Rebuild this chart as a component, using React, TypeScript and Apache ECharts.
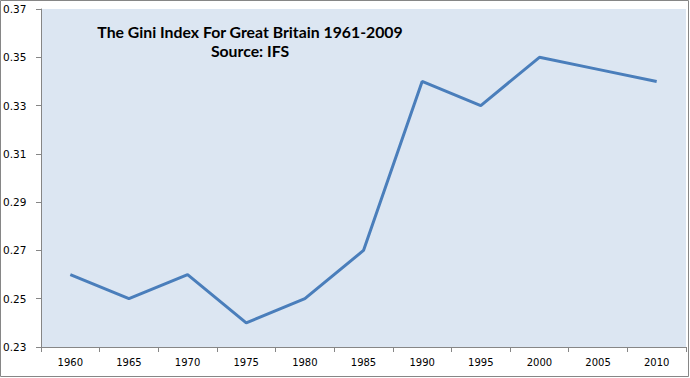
import React, { useEffect, useRef } from "react";
import * as echarts from "echarts";

const YEARS = ["1960", "1965", "1970", "1975", "1980", "1985", "1990", "1995", "2000", "2005", "2010"];
const GINI = [0.26, 0.25, 0.26, 0.24, 0.25, 0.27, 0.34, 0.33, 0.35, 0.345, 0.34];
const Y_TICKS = [0.23, 0.25, 0.27, 0.29, 0.31, 0.33, 0.35, 0.37];
const TITLE_LINES = ["The Gini Index For Great Britain 1961-2009", "Source: IFS"];

export default function App() {
  const ref = useRef<HTMLDivElement>(null);
  useEffect(() => {
    document.body.style.margin = "0";
    if (!ref.current) return;
    const chart = echarts.init(ref.current, undefined, { renderer: "svg" });
    const axisColor = "#868686";
    chart.setOption({
      animation: false,
      backgroundColor: "#ffffff",
      grid: {
        left: 40,
        top: 9,
        right: 4,
        bottom: 31,
        show: true,
        backgroundColor: "#DCE6F2",
        borderWidth: 0,
      },
      graphic: [
        {
          type: "rect",
          shape: { x: 0.5, y: 0.5, width: 688, height: 376 },
          style: { fill: "none", stroke: axisColor, lineWidth: 1 },
          z: 100,
        },
        {
          type: "text",
          x: 250,
          y: 31,
          style: {
            text: TITLE_LINES[0],
            fill: "#000",
            font: "bold 15.8px Lato",
            textAlign: "center",
            textVerticalAlign: "middle",
          },
          z: 100,
        },
        {
          type: "text",
          x: 250,
          y: 50,
          style: {
            text: TITLE_LINES[1],
            fill: "#000",
            font: "bold 15.8px Lato",
            textAlign: "center",
            textVerticalAlign: "middle",
          },
          z: 100,
        },
      ],
      xAxis: {
        type: "category",
        data: YEARS,
        boundaryGap: true,
        axisLine: { lineStyle: { color: axisColor, width: 1 } },
        axisTick: { show: true, interval: 0, length: 5, lineStyle: { color: axisColor } },
        axisLabel: {
          interval: 0,
          margin: 10,
          color: "#000",
          fontFamily: "DejaVu Sans",
          fontSize: 10,
        },
        splitLine: { show: false },
      },
      yAxis: {
        type: "value",
        min: 0.23,
        max: 0.37,
        axisLine: { show: true, lineStyle: { color: axisColor, width: 1 } },
        axisTick: { show: true, length: 5, lineStyle: { color: axisColor }, customValues: Y_TICKS },
        axisLabel: {
          customValues: Y_TICKS,
          formatter: (v: number) => v.toFixed(2),
          align: "left",
          margin: 38,
          color: "#000",
          fontFamily: "DejaVu Sans",
          fontSize: 10.5,
        },
        splitLine: { show: false },
      },
      series: [
        {
          type: "line",
          data: GINI,
          showSymbol: false,
          symbol: "none",
          lineStyle: { color: "#4A7EBB", width: 3 },
        },
      ],
    });
    return () => chart.dispose();
  }, []);
  return <div ref={ref} style={{ width: 690, height: 378 }} />;
}
